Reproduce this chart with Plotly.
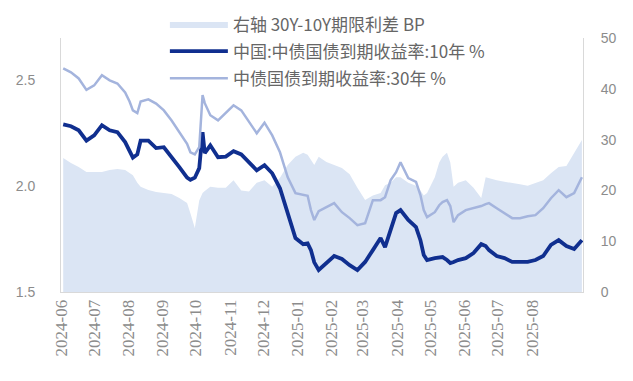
import plotly.graph_objects as go

dates = [
    "2024-06-03", "2024-06-10", "2024-06-17", "2024-06-24", "2024-07-01", "2024-07-08",
    "2024-07-15", "2024-07-22", "2024-07-29", "2024-08-02", "2024-08-05", "2024-08-09",
    "2024-08-12", "2024-08-19", "2024-08-26", "2024-09-02", "2024-09-09", "2024-09-16",
    "2024-09-23", "2024-09-26", "2024-09-30", "2024-10-04", "2024-10-07", "2024-10-09",
    "2024-10-14", "2024-10-21", "2024-10-28", "2024-11-04", "2024-11-11", "2024-11-18",
    "2024-11-25", "2024-12-02", "2024-12-09", "2024-12-16", "2024-12-23", "2024-12-30",
    "2025-01-06", "2025-01-10", "2025-01-13", "2025-01-16", "2025-01-20", "2025-01-27",
    "2025-02-03", "2025-02-10", "2025-02-17", "2025-02-24", "2025-03-03", "2025-03-10",
    "2025-03-17", "2025-03-21", "2025-03-26", "2025-03-31", "2025-04-04", "2025-04-11",
    "2025-04-18", "2025-04-22", "2025-04-25", "2025-04-28", "2025-05-05", "2025-05-09",
    "2025-05-12", "2025-05-16", "2025-05-19", "2025-05-22", "2025-05-26", "2025-06-02",
    "2025-06-09", "2025-06-16", "2025-06-20", "2025-06-23", "2025-06-30", "2025-07-07",
    "2025-07-14", "2025-07-21", "2025-07-28", "2025-08-04", "2025-08-11", "2025-08-18",
    "2025-08-25", "2025-09-01", "2025-09-08", "2025-09-15",
]

yield_30y = [
    2.557, 2.538, 2.509, 2.455, 2.476, 2.524,
    2.500, 2.485, 2.443, 2.400, 2.358, 2.345,
    2.400, 2.410, 2.390, 2.358, 2.310, 2.255,
    2.200, 2.160, 2.150, 2.184, 2.430, 2.392,
    2.335, 2.311, 2.349, 2.382, 2.358, 2.302,
    2.250, 2.300, 2.240, 2.160, 2.042, 1.967,
    1.960, 1.955, 1.887, 1.840, 1.882, 1.900,
    1.920, 1.877, 1.849, 1.816, 1.825, 1.934,
    1.934, 1.948, 2.028, 2.066, 2.113, 2.038,
    2.020, 1.958, 1.887, 1.854, 1.877, 1.910,
    1.925, 1.934, 1.906, 1.830, 1.863, 1.887,
    1.896, 1.906, 1.915, 1.920, 1.896, 1.873,
    1.849, 1.849, 1.858, 1.863, 1.896, 1.943,
    1.981, 1.948, 1.967, 2.042,
]

yield_10y = [
    2.292, 2.283, 2.264, 2.215, 2.240, 2.288,
    2.264, 2.255, 2.208, 2.170, 2.135, 2.150,
    2.215, 2.215, 2.180, 2.184, 2.140, 2.090,
    2.040, 2.030, 2.040, 2.085, 2.255, 2.156,
    2.193, 2.137, 2.140, 2.165, 2.150, 2.113,
    2.075, 2.099, 2.061, 1.990, 1.877, 1.755,
    1.726, 1.730, 1.698, 1.640, 1.604, 1.637,
    1.670, 1.656, 1.627, 1.604, 1.642, 1.698,
    1.755, 1.712, 1.800, 1.873, 1.887, 1.840,
    1.807, 1.745, 1.675, 1.651, 1.660, 1.665,
    1.665, 1.651, 1.637, 1.642, 1.651, 1.660,
    1.684, 1.726, 1.717, 1.698, 1.670, 1.660,
    1.642, 1.642, 1.642, 1.651, 1.670, 1.722,
    1.745, 1.717, 1.703, 1.745,
]

spread_bp = [
    26.4, 25.4, 24.6, 23.6, 23.6, 23.6,
    24.0, 24.2, 24.0, 23.5, 23.0, 21.5,
    20.7, 20.1, 19.7, 19.5, 19.3, 18.5,
    17.5, 15.5, 12.6, 18.0, 19.5, 19.9,
    20.7, 20.5, 20.5, 22.0, 20.0, 19.8,
    21.5, 22.0, 20.7, 22.5, 25.0, 26.6,
    27.4, 27.0, 26.0, 25.0, 26.6, 25.6,
    25.0, 24.4, 23.2, 20.5, 18.1, 19.0,
    19.5, 21.0, 21.5, 22.6, 22.6, 21.5,
    20.9, 20.0, 19.0, 19.5, 22.6, 25.5,
    26.6, 27.4, 25.5, 20.7, 21.5, 22.0,
    20.5, 18.5, 22.6, 22.4, 22.0, 21.7,
    21.5, 21.2, 20.9, 21.5, 22.0, 23.4,
    24.6, 24.8, 27.4, 29.9,
]

month_ticks = [
    "2024-06-01", "2024-07-01", "2024-08-01", "2024-09-01", "2024-10-01",
    "2024-11-01", "2024-12-01", "2025-01-01", "2025-02-01", "2025-03-01",
    "2025-04-01", "2025-05-01", "2025-06-01", "2025-07-01", "2025-08-01",
]

name_spread = "右轴 30Y-10Y期限利差 BP"
name_10y = "中国:中债国债到期收益率:10年 %"
name_30y = "中债国债到期收益率:30年 %"

left_ticks = [1.5, 2.0, 2.5]
right_ticks = [0, 10, 20, 30, 40, 50]

fig = go.Figure()
fig.add_trace(go.Scatter(
    x=dates, y=spread_bp, name=name_spread, mode="lines",
    line=dict(width=0, color="#dbe5f4"), fill="tozeroy", fillcolor="#dbe5f4",
    yaxis="y", legendgroup="a",
))
fig.add_trace(go.Scatter(
    x=dates, y=yield_10y, name=name_10y, mode="lines",
    line=dict(color="#102f8f", width=3.8), yaxis="y2", legendgroup="b",
))
fig.add_trace(go.Scatter(
    x=dates, y=yield_30y, name=name_30y, mode="lines",
    line=dict(color="#a4b4dd", width=2.5), yaxis="y2", legendgroup="c",
))

tick_grey = "#8c8c8c"
fig.update_layout(
    width=633, height=381,
    margin=dict(l=53, r=58, t=30, b=97, autoexpand=False),
    paper_bgcolor="white", plot_bgcolor="white",
    showlegend=True,
    legend=dict(
        xref="paper", yref="paper", x=0.199, y=1.124,
        xanchor="left", yanchor="top",
        bgcolor="rgba(0,0,0,0)",
        font=dict(family="Noto Sans CJK SC", size=17, color="#666666"),
        tracegroupgap=2, itemwidth=58,
    ),
    xaxis=dict(
        type="date", range=["2024-06-01", "2025-09-16"],
        tickvals=month_ticks, tickformat="%Y-%m", tickangle=-90,
        tickfont=dict(family="Liberation Serif", size=17, color=tick_grey),
        showgrid=False, showline=True, linecolor="#d9d9d9", ticks="",
        zeroline=False,
    ),
    yaxis=dict(
        side="right", range=[0, 50], tickvals=right_ticks,
        tickfont=dict(family="Liberation Sans", size=14, color=tick_grey),
        showgrid=False, showline=True, linecolor="#d9d9d9", zeroline=False,
        ticklabelstandoff=14,
    ),
    yaxis2=dict(
        overlaying="y", side="left", range=[1.5, 2.7], tickvals=left_ticks,
        tickformat=".1f",
        tickfont=dict(family="Liberation Sans", size=14, color=tick_grey),
        showgrid=False, showline=True, linecolor="#d9d9d9", zeroline=False,
        ticklabelstandoff=22,
    ),
)

fig.write_html("out.html")
